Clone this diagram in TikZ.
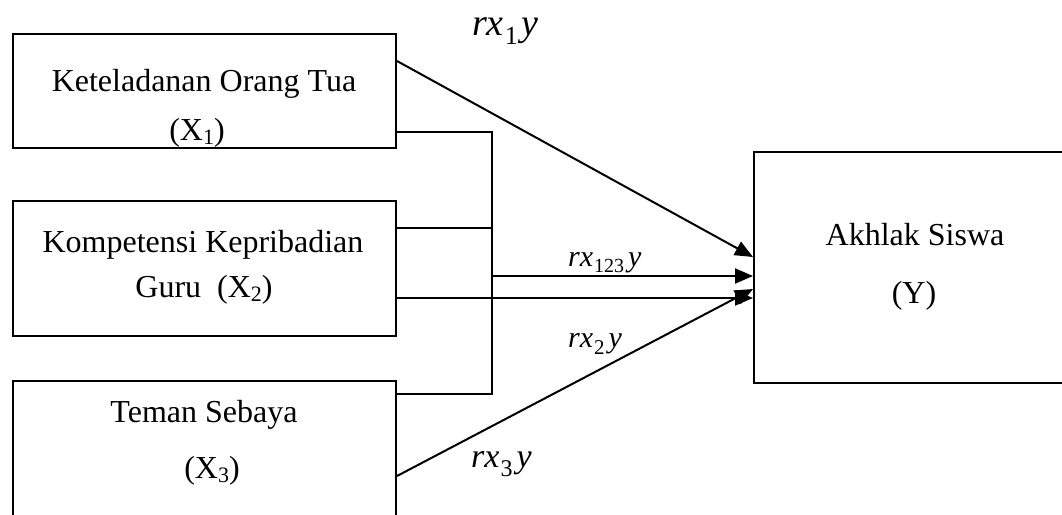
\documentclass[tikz,border=0pt]{standalone}
\usepackage{fontspec}
\setmainfont{Liberation Serif}
\usetikzlibrary{arrows.meta}
\newcommand\rxylab[4]{\fontsize{#1}{#1}\selectfont\textit{rx}\kern1pt\raisebox{-#3}{\fontsize{#2}{#2}\selectfont #4}\kern4pt\textit{y}}
\newcommand\subx[1]{\raisebox{-4pt}{\fontsize{22}{22}\selectfont #1}}
\tikzset{
  box/.style={draw, line width=2pt, inner sep=0pt, minimum width=383.5pt},
  conn/.style={line width=2pt},
  arr/.style={line width=2pt, -{Triangle[length=18pt,width=15pt]}},
  txt/.style={anchor=base, inner sep=0pt, font=\fontsize{32}{38}\selectfont},
  lab/.style={anchor=base west, inner sep=0pt},
}
\begin{document}
\begin{tikzpicture}[x=1pt,y=-1pt]
\useasboundingbox (0,0) rectangle (1062,514);
\clip (0,0) rectangle (1062,514);
% boxes
\node[box, minimum height=114.5pt] (b1) at (204.25,90.75) {};
\node[box, minimum height=135pt] (b2) at (204.25,268.5) {};
\node[box, minimum height=160pt] (b3) at (204.25,461) {};
\node[box, minimum width=322pt, minimum height=231pt] (Y) at (915,267.5) {};
% texts
\node[txt] (t1a) at (204,91) {Keteladanan Orang Tua};
\node[txt] (t1b) at (197,140) {(X\subx{1})};
\node[txt] (t2a) at (203,252) {Kompetensi Kepribadian};
\node[txt] (t2b) at (204,297) {Guru\ \ (X\subx{2})};
\node[txt] (t3a) at (204,422) {Teman Sebaya};
\node[txt] (t3b) at (212,478) {(X\subx{3})};
\node[txt] (tYa) at (915,245) {Akhlak Siswa};
\node[txt] (tYb) at (914,303) {(Y)};
% bus
\coordinate (bus1) at (492,132);
\coordinate (bus2) at (492,228);
\coordinate (busm) at (492,276);
\coordinate (bus3) at (492,394);
\draw[conn] (b1.east |- bus1) -- (bus1) -- (bus3) -- (b3.east |- bus3);
\draw[conn] (b2.east |- bus2) -- (bus2);
% arrows
\draw[arr] (b1.east |- 0,61) -- (Y.west |- 0,257);
\draw[arr] (busm) -- (Y.west |- busm);
\draw[arr] (b2.east |- 0,298) -- (Y.west |- 0,298);
\draw[arr] (b3.east |- 0,476) -- (Y.west |- 0,289);
% labels
\node[lab] (l1) at (472,35) {\rxylab{38}{26}{9pt}{1}};
\node[lab] (l123) at (568,266) {\rxylab{30}{20}{6pt}{123}};
\node[lab] (l2) at (568,347) {\rxylab{30}{21}{7pt}{2}};
\node[lab] (l3) at (471,467) {\rxylab{34}{24}{9pt}{3}};
\end{tikzpicture}
\end{document}
